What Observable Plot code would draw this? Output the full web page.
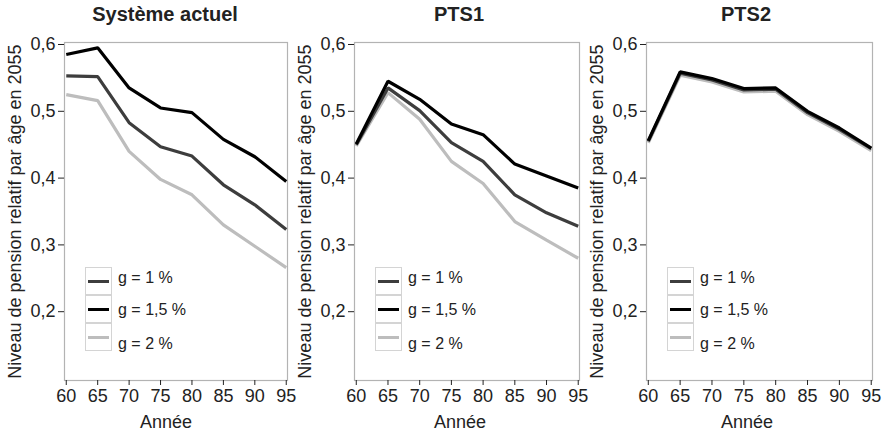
<!DOCTYPE html>
<html><head><meta charset="utf-8">
<script src="https://cdn.jsdelivr.net/npm/d3@7"></script>
<script src="https://cdn.jsdelivr.net/npm/@observablehq/plot@0.6"></script>
<style>
body{margin:0;background:#fff;font-family:"Liberation Sans",Arial,sans-serif;}
#wrap{position:relative;width:885px;height:434px;overflow:hidden;background:#fff;}
.title{position:absolute;top:3px;font-weight:bold;font-size:20px;color:#222;transform:translateX(-50%);white-space:nowrap;}
.xlab{position:absolute;top:412px;font-size:18px;color:#222;transform:translateX(-50%);white-space:nowrap;}
.panel{position:absolute;top:30px;overflow:visible;}
.panel text{font-size:18px !important;}
.legend{position:absolute;top:267px;}
.cell{position:absolute;left:0;width:25px;height:26px;border:1px solid #d4d4d4;background:#fff;}
.key{position:absolute;left:2px;width:21px;height:3px;top:12px;}
.ltxt{position:absolute;font-size:16px;color:#222;white-space:nowrap;transform:translateY(-50%);}
</style></head><body><div id="wrap"></div>
<script>
const years = [60, 65, 70, 75, 80, 85, 90, 95];
const seriesNames = ["g = 1 %", "g = 1,5 %", "g = 2 %"];
const seriesColors = ["#3d3d3d", "#000000", "#bdbdbd"];
const panelTitles = ["Système actuel", "PTS1", "PTS2"];
const yTicks = [0.2, 0.3, 0.4, 0.5, 0.6];
const xTicks = [60, 65, 70, 75, 80, 85, 90, 95];
const yLabel = "Niveau de pension relatif par âge en 2055";
const xLabel = "Année";

const actuel_g1  = [0.553, 0.552, 0.483, 0.447, 0.433, 0.390, 0.360, 0.323];
const actuel_g15 = [0.585, 0.595, 0.535, 0.505, 0.498, 0.458, 0.432, 0.395];
const actuel_g2  = [0.525, 0.516, 0.440, 0.398, 0.375, 0.330, 0.298, 0.266];
const pts1_g1  = [0.450, 0.535, 0.501, 0.453, 0.425, 0.375, 0.348, 0.328];
const pts1_g15 = [0.451, 0.545, 0.518, 0.481, 0.465, 0.421, 0.403, 0.385];
const pts1_g2  = [0.448, 0.528, 0.488, 0.425, 0.392, 0.335, 0.307, 0.280];
const pts2_g1  = [0.455, 0.557, 0.547, 0.532, 0.533, 0.498, 0.473, 0.444];
const pts2_g15 = [0.456, 0.559, 0.549, 0.534, 0.535, 0.500, 0.475, 0.445];
const pts2_g2  = [0.453, 0.554, 0.544, 0.529, 0.530, 0.495, 0.470, 0.441];

const panelValues = [
  [actuel_g1, actuel_g15, actuel_g2],
  [pts1_g1, pts1_g15, pts1_g2],
  [pts2_g1, pts2_g15, pts2_g2]
];
const layout = [
  {left: 0, marginRight: 8, titleX: 165},
  {left: 290, marginRight: 6, titleX: 459},
  {left: 582, marginRight: 5, titleX: 746}
];
const fmt = d => String(d).replace(".", ",");
const drawOrder = [2, 0, 1];
const wrap = document.getElementById("wrap");

panelValues.forEach((vals, p) => {
  const L = layout[p];
  const data = [];
  drawOrder.forEach(s => years.forEach((yr, i) => data.push({year: yr, value: vals[s][i], series: seriesNames[s]})));
  const chart = Plot.plot({
    width: 295, height: 380,
    marginTop: 12, marginBottom: 30, marginLeft: 64, marginRight: L.marginRight,
    style: {fontFamily: "'Liberation Sans', Arial, sans-serif", fontSize: "18px", color: "#222", background: "transparent", overflow: "visible"},
    x: {domain: [59.72, 95.2]},
    y: {domain: [0.097, 0.603]},
    color: {domain: seriesNames, range: seriesColors},
    marks: [
      Plot.frame({stroke: "#b3b3b3", strokeWidth: 1.2}),
      Plot.axisX({ticks: xTicks, tickSize: 5, tickPadding: 4, label: null, tickFormat: d => String(d)}),
      Plot.axisY({ticks: yTicks, tickSize: 6, tickPadding: 3, tickFormat: fmt, label: yLabel, labelAnchor: "center", labelArrow: "none", labelOffset: 56}),
      Plot.line(data, {x: "year", y: "value", z: "series", stroke: "series", strokeWidth: 3.2, strokeLinejoin: "miter", strokeLinecap: "butt"})
    ]
  });
  chart.classList.add("panel");
  chart.style.left = L.left + "px";
  chart.style.overflow = "visible";
  wrap.appendChild(chart);

  const t = document.createElement("div");
  t.className = "title"; t.textContent = panelTitles[p]; t.style.left = L.titleX + "px";
  wrap.appendChild(t);
  const xl = document.createElement("div");
  xl.className = "xlab"; xl.textContent = xLabel; xl.style.left = (L.titleX + 1) + "px";
  wrap.appendChild(xl);

  const lg = document.createElement("div");
  lg.className = "legend"; lg.style.left = (L.left + 64 + 21) + "px";
  const textOffsets = [-3, 1, 7];
  seriesNames.forEach((name, s) => {
    const c = document.createElement("div");
    c.className = "cell"; c.style.top = (s * 28) + "px";
    const k = document.createElement("div");
    k.className = "key"; k.style.background = seriesColors[s];
    c.appendChild(k);
    lg.appendChild(c);
    const tx = document.createElement("div");
    tx.className = "ltxt"; tx.textContent = name;
    tx.style.left = "33px"; tx.style.top = (s * 28 + 14 + textOffsets[s]) + "px";
    lg.appendChild(tx);
  });
  wrap.appendChild(lg);
});
</script></body></html>
